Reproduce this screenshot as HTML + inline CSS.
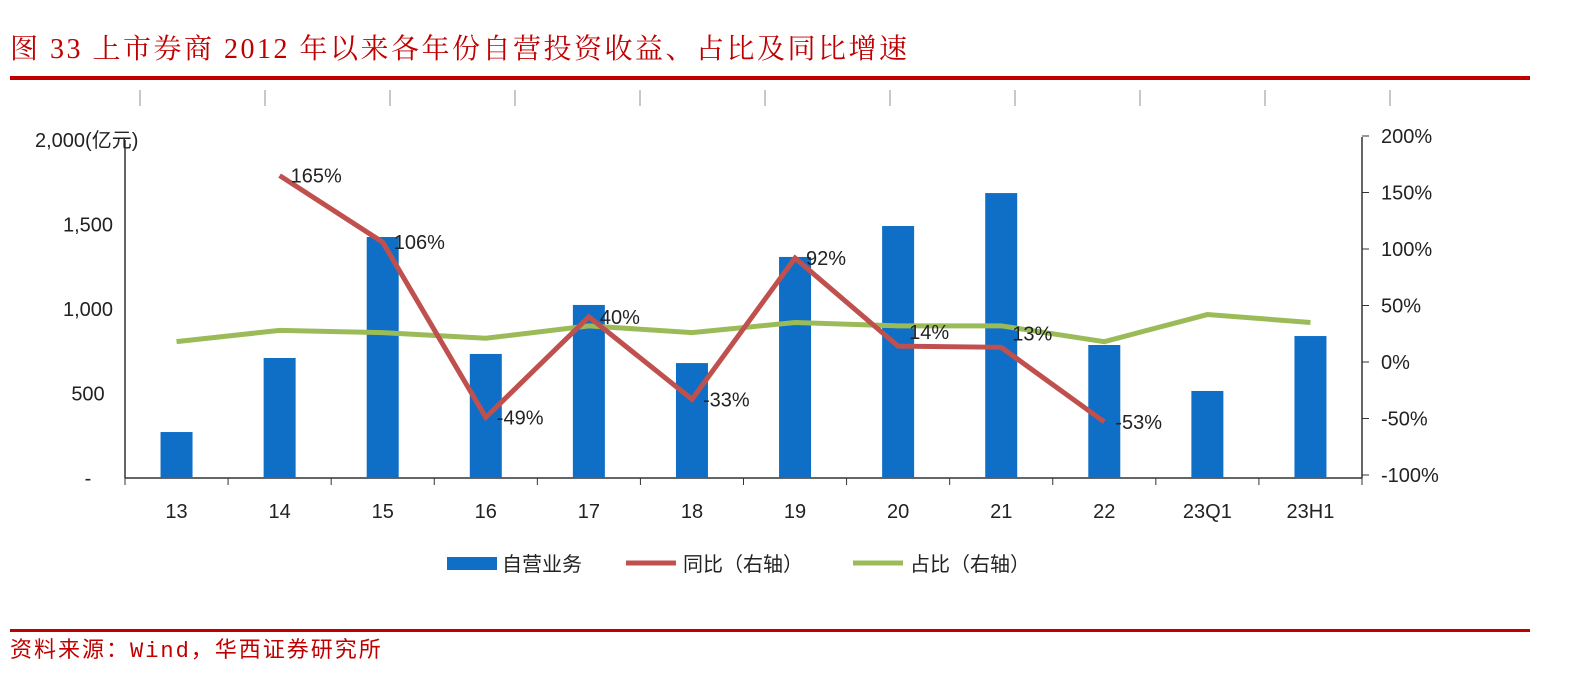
<!DOCTYPE html>
<html><head><meta charset="utf-8"><style>
body{margin:0;background:#fff;width:1592px;height:694px;overflow:hidden;font-family:"Liberation Sans","Noto Sans CJK SC",sans-serif}
</style></head><body>
<svg width="1592" height="694" xmlns="http://www.w3.org/2000/svg">
<text x="10" y="58" font-size="28" letter-spacing="2.5" fill="#c00000" font-family="Liberation Serif,'Noto Serif CJK SC',serif">图 33 上市券商 2012 年以来各年份自营投资收益、占比及同比增速</text>
<rect x="10" y="76" width="1520" height="4" fill="#c00000"/>
<g id="topticks" stroke="#c8c8c8" stroke-width="2"></g>
<g id="axes"></g>
<g id="bars"></g>
<g id="lines"></g>
<g id="legend" font-size="20" fill="#222">
<rect x="447" y="557" width="50" height="13" fill="#0f6fc6"/>
<text x="502" y="571">自营业务</text>
<line x1="626" y1="563" x2="676" y2="563" stroke="#c0504d" stroke-width="5"/>
<text x="683" y="571">同比（右轴）</text>
<line x1="853" y1="563" x2="903" y2="563" stroke="#9bbb59" stroke-width="5"/>
<text x="910" y="571">占比（右轴）</text>
</g>
<rect x="10" y="629" width="1520" height="3" fill="#c00000"/>
<text x="10" y="657" font-size="22" letter-spacing="2" fill="#c00000" font-family="Liberation Mono,'Noto Sans CJK SC',monospace">资料来源：Wind，华西证券研究所</text>
</svg>
<script>
const categories=["13","14","15","16","17","18","19","20","21","22","23Q1","23H1"];
const proprietary=[272,710,1426,734,1024,680,1308,1491,1686,787,515,840];
const yoy=[null,165,106,-49,40,-33,92,14,13,-53,null,null];
const share=[18,28,26,21,32,26,35,32,32,18,42,35];
const leftTicks=[0,500,1000,1500,2000];
const leftTickLabels=["-","500","1,000","1,500","2,000(亿元)"];
const rightTicks=[-100,-50,0,50,100,150,200];
const NS="http://www.w3.org/2000/svg";
const X0=125,X1=1362,n=categories.length,step=(X1-X0)/n;
const xc=i=>X0+step*(i+0.5);
const yL=v=>478-v*(338/2000);
const yR=v=>362-v*1.13;
function mk(tag,attrs,parent,txt){const e=document.createElementNS(NS,tag);for(const k in attrs)e.setAttribute(k,attrs[k]);if(txt!=null)e.textContent=txt;document.getElementById(parent).appendChild(e);return e;}
for(let i=0;i<11;i++){const l=mk('line',{x1:140+125*i,x2:140+125*i,y1:90,y2:106},'topticks');

}
let a=mk('line',{x1:X0,x2:X0,y1:140,y2:478,stroke:'#333','stroke-width':1.5},'axes');

a=mk('line',{x1:X1,x2:X1,y1:137,y2:478,stroke:'#333','stroke-width':1.5},'axes');

a=mk('line',{x1:X0,x2:X1,y1:478,y2:478,stroke:'#333','stroke-width':1.5},'axes');

leftTicks.forEach((v,i)=>{const t=mk('text',{x:i==4?35:88,y:yL(v)+7,'font-size':20,fill:'#222','text-anchor':i==4?'start':'middle'},'axes',leftTickLabels[i]);
});
rightTicks.forEach(v=>{const y=yR(v);const l=mk('line',{x1:X1,x2:X1+7,y1:y,y2:y,stroke:'#333'},'axes');

const t=mk('text',{x:X1+19,y:y+7,'font-size':20,fill:'#222'},'axes',v+'%');
});
for(let i=0;i<=n;i++){const l=mk('line',{x1:X0+step*i,x2:X0+step*i,y1:478,y2:485,stroke:'#333'},'axes');
}
categories.forEach((c,i)=>{const t=mk('text',{x:xc(i),y:518,'font-size':20,fill:'#222','text-anchor':'middle'},'axes',c);
});
proprietary.forEach((v,i)=>{const r=mk('rect',{x:xc(i)-16,y:yL(v),width:32,height:478-yL(v),fill:'#0f6fc6'},'bars');
});
const sp=share.map((v,i)=>xc(i)+','+yR(v)).join(' ');
let p=mk('polyline',{points:sp,fill:'none',stroke:'#9bbb59','stroke-width':5},'lines');

const yp=[];yoy.forEach((v,i)=>{if(v!=null)yp.push(xc(i)+','+yR(v));});
p=mk('polyline',{points:yp.join(' '),fill:'none',stroke:'#c0504d','stroke-width':5},'lines');

yoy.forEach((v,i)=>{if(v==null)return;const t=mk('text',{x:xc(i)+11,y:yR(v)+(v<0?7:(i>=7?-7:7)),'font-size':20,fill:'#222'},'lines',v+'%');
});
</script>
</body></html>
